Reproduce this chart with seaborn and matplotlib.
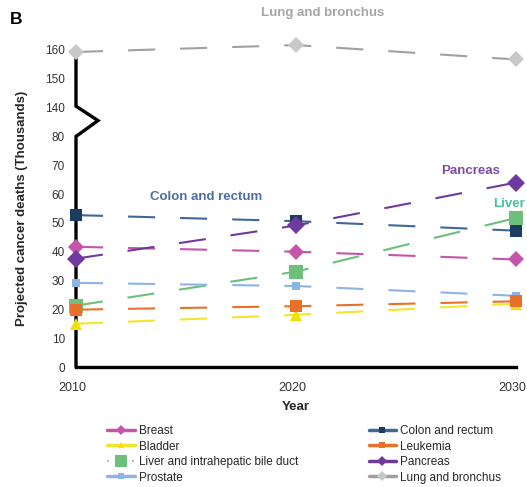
import matplotlib
matplotlib.use("Agg")
import matplotlib.pyplot as plt
import matplotlib.transforms as mtransforms
from matplotlib.lines import Line2D
import seaborn as sns
import pandas as pd

# projected deaths (thousands) in 2010, 2020, 2030
years = [2010, 2020, 2030]
breast = [41.7, 40.0, 37.3]
colon = [52.7, 50.6, 47.3]
bladder = [15.0, 18.1, 22.0]
leukemia = [19.9, 21.1, 22.8]
liver = [21.3, 33.1, 51.7]
pancreas = [37.6, 49.1, 64.0]
prostate = [29.2, 28.1, 24.7]
lung = [159.3, 161.7, 156.7]

# axis break: 80 -> 140 is squeezed into one 10-unit step
BREAK_LO, BREAK_HI = 80, 140
SHIFT = BREAK_HI - BREAK_LO - 10

def squeeze(v):
    return v - SHIFT if v >= BREAK_HI else v

series = [
    # name, values, line colour, marker colour, marker, size
    ("Breast", breast, "#C455A8", "#C455A8", "D", 8),
    ("Bladder", bladder, "#F2E530", "#F2E000", "^", 9),
    ("Liver and intrahepatic bile duct", liver, "#6CC07A", "#6CC07A", "s", 10),
    ("Prostate", prostate, "#8DB4E3", "#8DB4E3", "s", 6),
    ("Colon and rectum", colon, "#3F6898", "#1D3B5E", "s", 8),
    ("Leukemia", leukemia, "#E8702A", "#E8702A", "s", 8),
    ("Pancreas", pancreas, "#6E3A9E", "#6E3A9E", "D", 9),
    ("Lung and bronchus", lung, "#A0A0A0", "#C8C8C8", "D", 8),
]

sns.set_theme(style="white")
plt.rcParams["font.family"] = ["Liberation Sans", "DejaVu Sans"]

fig = plt.figure(figsize=(5.27, 4.87), dpi=100)
ax = fig.add_axes([0.1442, 0.2464, 0.835, 0.651])

handles = []
for name, vals, lc, mc, mk, ms in series:
    df = pd.DataFrame({"year": years, "deaths": [squeeze(v) for v in vals]})
    sns.lineplot(data=df, x="year", y="deaths", ax=ax, color=lc, lw=1.5,
                 linestyle=(0, (13, 12)), marker=mk, markersize=ms,
                 markerfacecolor=mc, markeredgecolor=mc, markeredgewidth=0,
                 clip_on=False, zorder=3)
    if name.startswith("Liver"):
        h = Line2D([], [], color=lc, lw=1.2, linestyle=(0, (1, 14)),
                   marker=mk, markersize=8, markerfacecolor=mc, markeredgewidth=0)
    else:
        h = Line2D([], [], color=lc, lw=2.5, marker=mk, markersize=5,
                   markerfacecolor=mc, markeredgewidth=0)
    handles.append((h, name))

ax.set_xlim(2010, 2030)
ax.set_ylim(0, 110)
ax.set_xticks(years)
yt = list(range(0, 90, 10)) + [140, 150, 160]
ax.set_yticks([squeeze(v) for v in yt])
ax.set_yticklabels([str(v) for v in yt])
ax.tick_params(axis="both", length=0, labelsize=8.5, colors="#333333", pad=8)
ax.tick_params(axis="x", pad=11, labelsize=9)
# year labels sit a little left of their ticks
shift = mtransforms.ScaledTranslation(-0.035, 0, fig.dpi_scale_trans)
for lab in ax.get_xticklabels():
    lab.set_transform(lab.get_transform() + shift)
ax.set_xlabel("Year", fontsize=9.5, fontweight="bold", labelpad=5)
ax.set_ylabel("Projected cancer deaths (Thousands)", fontsize=9.5,
              fontweight="bold", labelpad=12)

for s in ["top", "right", "left"]:
    ax.spines[s].set_visible(False)
ax.spines["bottom"].set_color("black")
ax.spines["bottom"].set_linewidth(2.4)

# left axis with zigzag break
tr = ax.get_yaxis_transform()
ax.plot([0, 0, 0.05, 0, 0], [0, 80, 85.5, 90.5, 109.5], color="black",
        lw=2.4, transform=tr, clip_on=False, zorder=2, solid_joinstyle="miter")

ax.text(2015.9, 58.9, "Colon and rectum", ha="center", va="center",
        fontsize=9.5, fontweight="bold", color="#4A70A2")
ax.text(2027.95, 68.0, "Pancreas", ha="center", va="center", fontsize=9.5,
        fontweight="bold", color="#7C4AA8")
ax.text(2030.4, 56.4, "Liver", ha="right", va="center", fontsize=9.5,
        fontweight="bold", color="#45C39A")
fig.text(0.613, 0.973, "Lung and bronchus", ha="center", va="center",
         fontsize=9.5, fontweight="bold", color="#A6A6A6")
fig.text(0.019, 0.96, "B", ha="left", va="center", fontsize=12.5,
         fontweight="bold", color="black")

fig.legend([h for h, _ in handles], [n for _, n in handles], ncol=2,
           loc="upper left", bbox_to_anchor=(0.195, 0.137), frameon=False,
           fontsize=8.5, handlelength=2.3, handletextpad=0.35,
           columnspacing=6.0, labelspacing=0.3, borderaxespad=0)

fig.savefig("out.png", dpi=100)
